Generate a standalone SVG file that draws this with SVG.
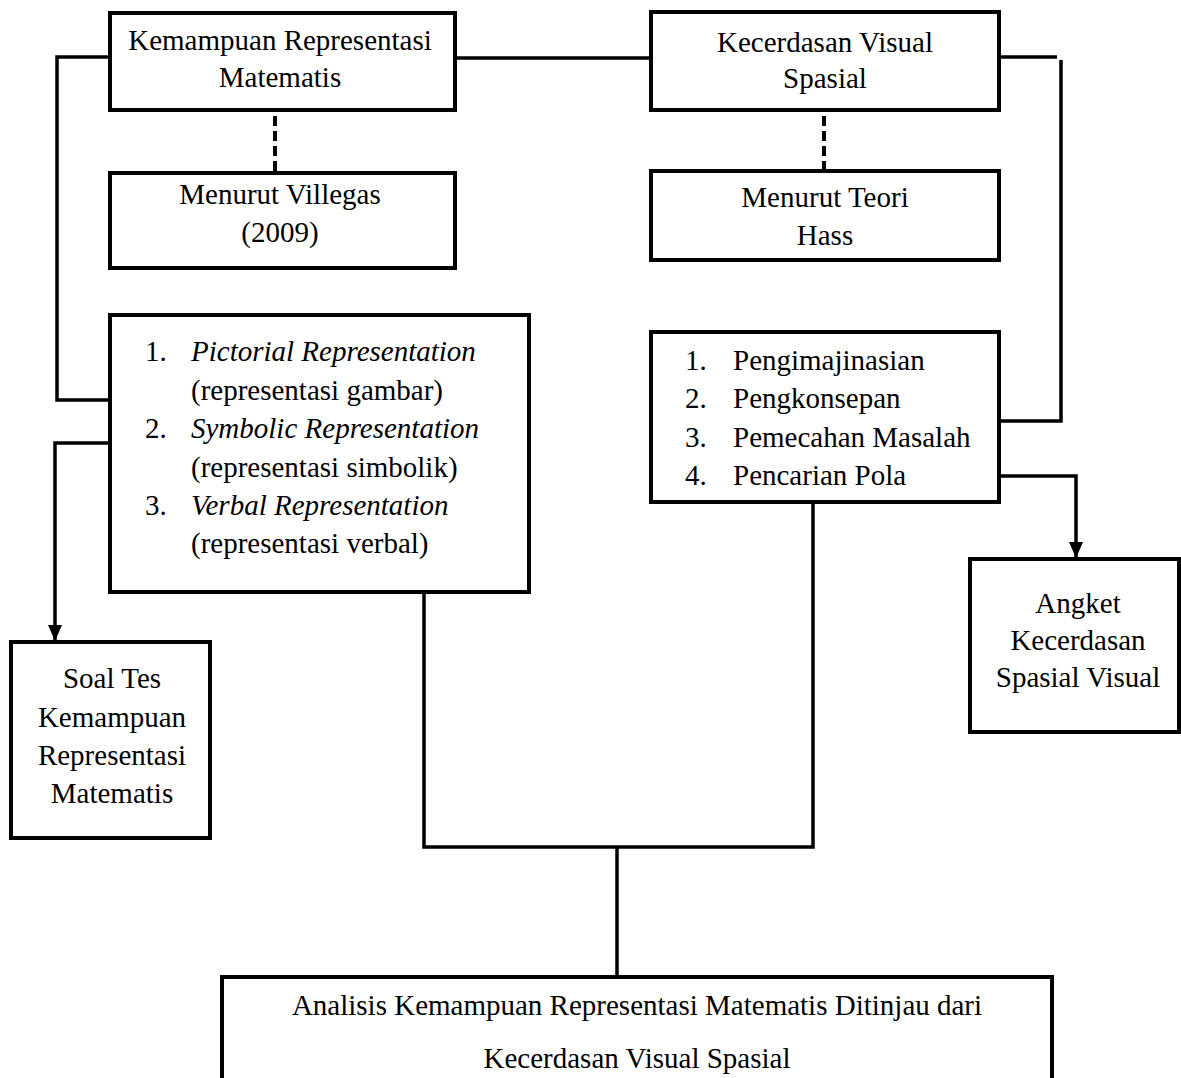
<svg xmlns="http://www.w3.org/2000/svg" width="1181" height="1078" viewBox="0 0 1181 1078">
<style>
.box{fill:#fff;stroke:#000;stroke-width:4}
.ln{fill:none;stroke:#000;stroke-width:3.5}
.dash{fill:none;stroke:#000;stroke-width:4;stroke-dasharray:10 5}
text{font-family:"Liberation Serif","Times New Roman",serif;font-size:29px;fill:#000}
.c{text-anchor:middle}
.i{font-style:italic}
</style>
<defs>
<marker id="arr" viewBox="0 0 16 14" refX="16" refY="7" markerWidth="16" markerHeight="14" markerUnits="userSpaceOnUse" orient="auto">
<path d="M0,0 L16,7 L0,14 Z" fill="#000"/>
</marker>
</defs>
<g id="connectors">
<path class="ln" d="M110,57 H57 V400 H110"/>
<path class="ln" d="M455,58 H651"/>
<path class="ln" d="M999,57 H1057"/>
<path class="ln" d="M1061,60 V421 H999"/>
<path class="dash" d="M275,116 V172"/>
<path class="dash" d="M824,116 V170"/>
<path class="ln" d="M110,443 H55 V641" marker-end="url(#arr)"/>
<path class="ln" d="M999,476 H1076 V558" marker-end="url(#arr)"/>
<path class="ln" d="M424,592 V847 H813 V502"/>
<path class="ln" d="M617,847 V977"/>
</g>
<g id="node-krm">
<rect class="box" x="110" y="13" width="345" height="97"/>
<text class="c" x="280" y="50">Kemampuan Representasi</text>
<text class="c" x="280" y="87">Matematis</text>
</g>
<g id="node-villegas">
<rect class="box" x="110" y="173" width="345" height="95"/>
<text class="c" x="280" y="204">Menurut Villegas</text>
<text class="c" x="280" y="242">(2009)</text>
</g>
<g id="node-kvs">
<rect class="box" x="651" y="12" width="348" height="98"/>
<text class="c" x="825" y="52">Kecerdasan Visual</text>
<text class="c" x="825" y="88">Spasial</text>
</g>
<g id="node-hass">
<rect class="box" x="651" y="171" width="348" height="89"/>
<text class="c" x="825" y="207">Menurut Teori</text>
<text class="c" x="825" y="245">Hass</text>
</g>
<g id="node-list-left">
<rect class="box" x="110" y="315" width="419" height="277"/>
<text x="145" y="361">1.</text><text class="i" x="191" y="361">Pictorial Representation</text>
<text x="191" y="400">(representasi gambar)</text>
<text x="145" y="438">2.</text><text class="i" x="191" y="438">Symbolic Representation</text>
<text x="191" y="477">(representasi simbolik)</text>
<text x="145" y="515">3.</text><text class="i" x="191" y="515">Verbal Representation</text>
<text x="191" y="553">(representasi verbal)</text>
</g>
<g id="node-list-right">
<rect class="box" x="651" y="332" width="348" height="170"/>
<text x="685" y="370">1.</text><text x="733" y="370">Pengimajinasian</text>
<text x="685" y="408">2.</text><text x="733" y="408">Pengkonsepan</text>
<text x="685" y="447">3.</text><text x="733" y="447">Pemecahan Masalah</text>
<text x="685" y="485">4.</text><text x="733" y="485">Pencarian Pola</text>
</g>
<g id="node-soal">
<rect class="box" x="11" y="642" width="199" height="196"/>
<text class="c" x="112" y="688">Soal Tes</text>
<text class="c" x="112" y="727">Kemampuan</text>
<text class="c" x="112" y="765">Representasi</text>
<text class="c" x="112" y="803">Matematis</text>
</g>
<g id="node-angket">
<rect class="box" x="970" y="559" width="209" height="173"/>
<text class="c" x="1078" y="613">Angket</text>
<text class="c" x="1078" y="650">Kecerdasan</text>
<text class="c" x="1078" y="687">Spasial Visual</text>
</g>
<g id="node-analisis">
<rect class="box" x="222" y="977" width="830" height="120"/>
<text class="c" x="637" y="1015">Analisis Kemampuan Representasi Matematis Ditinjau dari</text>
<text class="c" x="637" y="1068">Kecerdasan Visual Spasial</text>
</g>
</svg>
